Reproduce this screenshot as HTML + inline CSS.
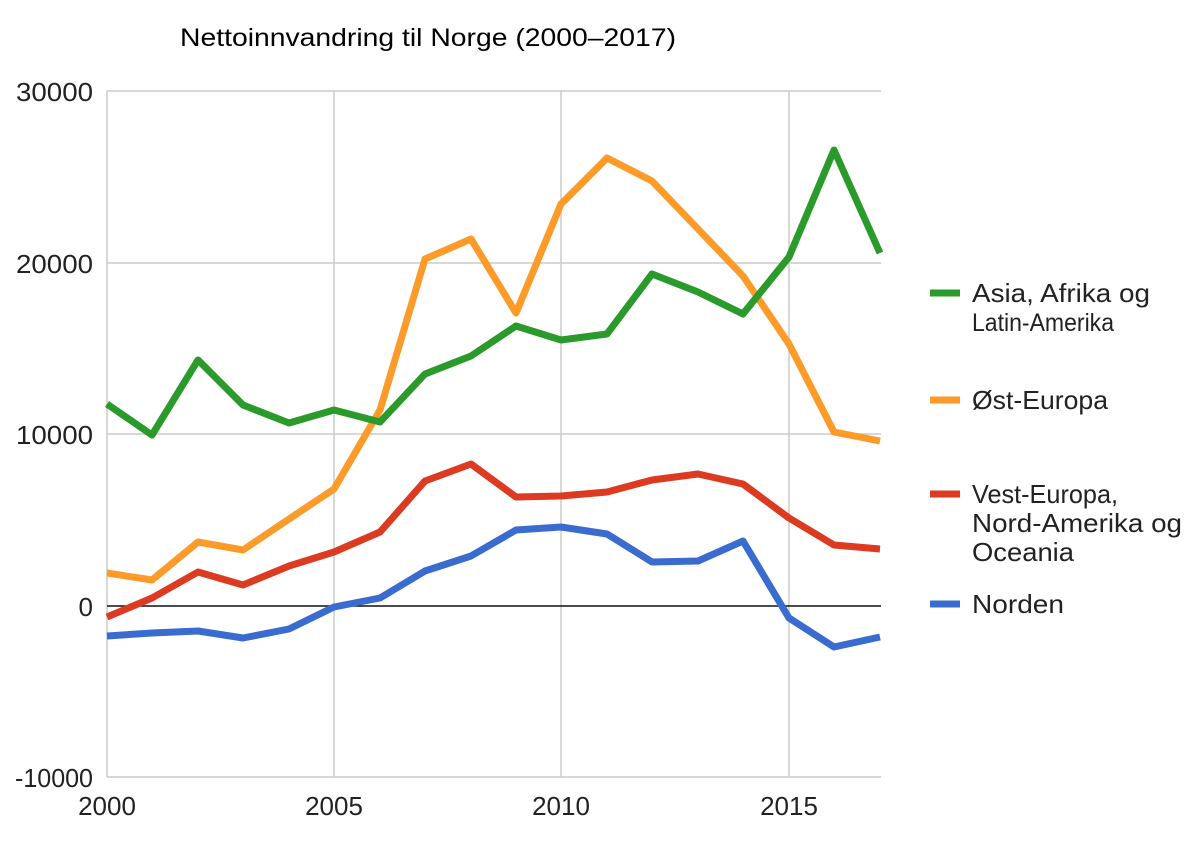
<!DOCTYPE html>
<html><head><meta charset="utf-8"><style>body{margin:0;background:#fff}</style></head><body>
<svg width="1186" height="841" xmlns="http://www.w3.org/2000/svg" font-family="Liberation Sans, sans-serif">
<rect width="1186" height="841" fill="#fff"/>
<text x="180" y="46" font-size="25" fill="#000" textLength="496" lengthAdjust="spacingAndGlyphs">Nettoinnvandring til Norge (2000–2017)</text>
<g stroke="#ccc" stroke-width="1.5">
<line x1="107" y1="91" x2="881" y2="91"/>
<line x1="107" y1="263" x2="881" y2="263"/>
<line x1="107" y1="434" x2="881" y2="434"/>
<line x1="107" y1="777" x2="881" y2="777"/>
<line x1="107" y1="91" x2="107" y2="777"/>
<line x1="334" y1="91" x2="334" y2="777"/>
<line x1="561" y1="91" x2="561" y2="777"/>
<line x1="789" y1="91" x2="789" y2="777"/>
</g>
<line x1="107" y1="606" x2="881" y2="606" stroke="#111" stroke-width="1.5"/>
<g font-size="26" fill="#222" text-anchor="end">
<text x="93" y="101" textLength="77" lengthAdjust="spacingAndGlyphs">30000</text><text x="93" y="273" textLength="77" lengthAdjust="spacingAndGlyphs">20000</text><text x="93" y="444" textLength="77" lengthAdjust="spacingAndGlyphs">10000</text><text x="93" y="616">0</text><text x="93" y="787" textLength="78" lengthAdjust="spacingAndGlyphs">-10000</text>
</g>
<g font-size="26" fill="#222" text-anchor="middle">
<text x="107" y="815">2000</text><text x="334" y="815">2005</text><text x="561" y="815">2010</text><text x="789" y="815">2015</text>
</g>
<g fill="none" stroke-width="7" stroke-linejoin="round">
<polyline stroke="#3a6ccf" points="107,636 152,633 198,631 243,638 289,629 334,607 380,598 425,571 471,556 516,530 561,527 607,534 652,562 698,561 743,541 789,618 834,647 880,637"/>
<polyline stroke="#dc3b22" points="107,617 152,598 198,572 243,585 289,566 334,552 380,532 425,481 471,464 516,497 561,496 607,492 652,480 698,474 743,484 789,518 834,545 880,549"/>
<polyline stroke="#fd9b2a" points="107,573 152,580 198,542 243,550 289,519 334,489 380,410 425,259 471,239 516,313 561,204 607,158 652,181 698,229 743,276 789,344 834,432 880,441"/>
<polyline stroke="#2a9a2a" points="107,404 152,435 198,360 243,405 289,423 334,410 380,422 425,374 471,356 516,326 561,340 607,334 652,274 698,292 743,314 789,257 834,150 880,253"/>
</g>
<g stroke-width="7">
<line x1="930" y1="293" x2="960" y2="293" stroke="#2a9a2a"/>
<line x1="930" y1="400" x2="960" y2="400" stroke="#fd9b2a"/>
<line x1="930" y1="494" x2="960" y2="494" stroke="#dc3b22"/>
<line x1="930" y1="604" x2="960" y2="604" stroke="#3a6ccf"/>
</g>
<g font-size="26" fill="#222">
<text x="972" y="302" textLength="178" lengthAdjust="spacingAndGlyphs">Asia, Afrika og</text><text x="972" y="331" textLength="142" lengthAdjust="spacingAndGlyphs" font-size="25">Latin-Amerika</text>
<text x="972" y="409" textLength="136" lengthAdjust="spacingAndGlyphs">Øst-Europa</text>
<text x="972" y="503" textLength="146" lengthAdjust="spacingAndGlyphs">Vest-Europa,</text><text x="972" y="532" textLength="210" lengthAdjust="spacingAndGlyphs">Nord-Amerika og</text><text x="972" y="561" textLength="102" lengthAdjust="spacingAndGlyphs">Oceania</text>
<text x="972" y="613" textLength="92" lengthAdjust="spacingAndGlyphs">Norden</text>
</g>
</svg>
</body></html>
